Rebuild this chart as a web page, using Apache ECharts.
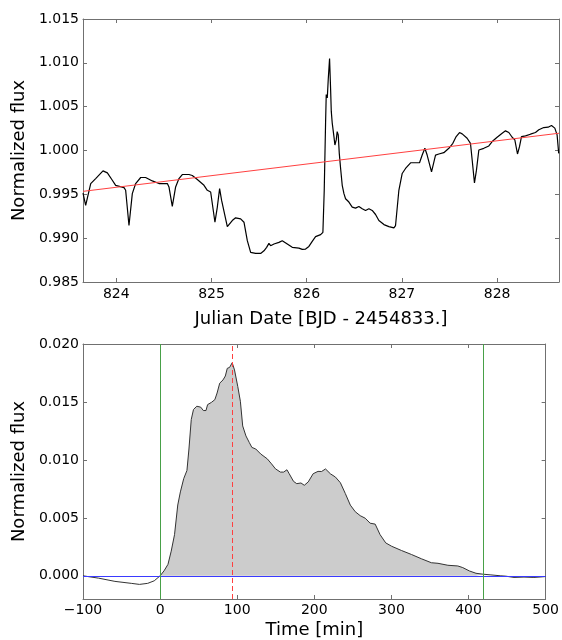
<!DOCTYPE html>
<html>
<head>
<meta charset="utf-8">
<script src="https://cdn.jsdelivr.net/npm/echarts@6/dist/echarts.min.js"></script>
<style>
html, body { margin: 0; padding: 0; background: #fff; }
#chart { width: 562px; height: 640px; }
</style>
</head>
<body>
<div id="chart"></div>
<script>
// light curve (top panel)
var lcTime = [823.65, 823.678, 823.731, 823.783, 823.860, 823.906, 823.958, 823.993, 824.081, 824.098,
  824.133, 824.168, 824.203, 824.256, 824.308, 824.378, 824.448, 824.536, 824.553, 824.588,
  824.623, 824.658, 824.693, 824.763, 824.798, 824.851, 824.921, 824.956, 824.991, 825.036,
  825.061, 825.085, 825.106, 825.166, 825.218, 825.253, 825.306, 825.341, 825.376, 825.411,
  825.463, 825.516, 825.551, 825.579, 825.603, 825.621, 825.656, 825.708, 825.743, 825.796,
  825.848, 825.918, 825.953, 825.988, 826.023, 826.058, 826.093, 826.146, 826.170, 826.184,
  826.198, 826.205, 826.216, 826.226, 826.240, 826.251, 826.258, 826.268, 826.286, 826.296,
  826.310, 826.320, 826.331, 826.342, 826.356, 826.373, 826.391, 826.408, 826.443, 826.478,
  826.513, 826.548, 826.583, 826.618, 826.653, 826.688, 826.723, 826.758, 826.811, 826.863,
  826.916, 826.933, 826.968, 827.003, 827.038, 827.091, 827.160, 827.185, 827.213, 827.241,
  827.265, 827.311, 827.353, 827.388, 827.440, 827.493, 827.535, 827.570, 827.605, 827.633,
  827.685, 827.720, 827.738, 827.762, 827.783, 827.808, 827.860, 827.913, 827.948, 828.000,
  828.053, 828.088, 828.123, 828.158, 828.186, 828.214, 828.235, 828.256, 828.298, 828.350,
  828.403, 828.438, 828.490, 828.536, 828.571, 828.606, 828.630, 828.647];
var lcFlux = [0.99515, 0.99374, 0.99623, 0.99680, 0.99768, 0.99745, 0.99661, 0.99603, 0.99577, 0.99546,
  0.99144, 0.99508, 0.99623, 0.99692, 0.99692, 0.99653, 0.99623, 0.99623, 0.99584, 0.99362,
  0.99584, 0.99680, 0.99726, 0.99726, 0.99715, 0.99669, 0.99603, 0.99546, 0.99527, 0.99182,
  0.99355, 0.99565, 0.99431, 0.99132, 0.99201, 0.99232, 0.99220, 0.99182, 0.98971, 0.98837,
  0.98826, 0.98826, 0.98856, 0.98895, 0.98941, 0.98914, 0.98933, 0.98952, 0.98971, 0.98933,
  0.98895, 0.98887, 0.98872, 0.98876, 0.98906, 0.98964, 0.99017, 0.99040, 0.99067, 0.99546,
  1.00312, 1.00638, 1.00600, 1.00810, 1.01048, 1.00695, 1.00446, 1.00312, 1.00159, 1.00063,
  1.00121, 1.00216, 1.00178, 0.99967, 0.99795, 0.99603, 0.99508, 0.99450, 0.99412, 0.99354,
  0.99343, 0.99362, 0.99335, 0.99316, 0.99335, 0.99316, 0.99270, 0.99201, 0.99155, 0.99132,
  0.99117, 0.99144, 0.99546, 0.99738, 0.99795, 0.99860, 0.99860, 0.99860, 0.99948, 1.00025,
  0.99948, 0.99757, 0.99948, 0.99960, 0.99975, 1.00025, 1.00082, 1.00159, 1.00205, 1.00190,
  1.00140, 1.00082, 0.99891, 0.99630, 0.99776, 1.00006, 1.00025, 1.00052, 1.00102, 1.00151,
  1.00197, 1.00224, 1.00205, 1.00151, 1.00121, 0.99960, 1.00044, 1.00159, 1.00167, 1.00186,
  1.00205, 1.00236, 1.00262, 1.00266, 1.00285, 1.00255, 1.00178, 0.99967];

// linear trend (red line)
var trendTime = [823.65, 828.65];
var trendFlux = [0.99534, 1.00197];

// flare profile (bottom panel)
var flareTime = [-100, -79.9, -58.6, -37.4, -26.8, -16.1, -7.6, 0, 5.1, 10.2,
  14.4, 18.7, 22.9, 26.3, 30.6, 34.8, 37.4, 40.4, 43.3, 47.6,
  52.7, 56.1, 59.5, 61.6, 66.7, 71.0, 73.9, 77.3, 81.6, 84.6,
  87.1, 90.1, 93.5, 96.5, 100.7, 104.1, 107.1, 111.3, 115.6, 119.0,
  124.1, 130.5, 139.0, 144.5, 149.6, 156.0, 160.2, 164.5, 167.4, 173.0,
  177.2, 182.7, 187.0, 192.1, 198.5, 204.8, 209.4, 214.5, 220.9, 227.4,
  233.8, 240.2, 246.7, 253.1, 259.5, 266.0, 272.4, 278.9, 285.3, 292.6,
  300.3, 313.2, 326.0, 338.9, 351.8, 360.4, 373.2, 386.1, 392.5, 401.1,
  409.7, 418.7, 429.0, 441.9, 448.3, 459.0, 471.9, 484.8, 495.5, 500];
var flareFlux = [0, -0.0002, -0.00048, -0.00065, -0.00074, -0.00065, -0.00043, 0, 0.00043, 0.00099,
  0.00213, 0.00355, 0.00611, 0.00724, 0.00838, 0.00909, 0.01094, 0.01349, 0.01435, 0.01463,
  0.01455, 0.01426, 0.01426, 0.01477, 0.01497, 0.0152, 0.01577, 0.01662, 0.0169, 0.01724,
  0.0179, 0.01798, 0.01838, 0.01776, 0.01634, 0.01506, 0.01293, 0.01207, 0.01151, 0.01108,
  0.01094, 0.01051, 0.01009, 0.00966, 0.00923, 0.00895, 0.00895, 0.00915, 0.00881, 0.00815,
  0.00795, 0.00801, 0.00781, 0.0081, 0.00881, 0.00901, 0.009, 0.00922, 0.0088, 0.00852,
  0.00803, 0.0071, 0.0061, 0.00553, 0.00519, 0.00497, 0.00454, 0.00446, 0.00355, 0.00284,
  0.00255, 0.00218, 0.00184, 0.00147, 0.00113, 0.00108, 0.00091, 0.00085, 0.00071, 0.00042,
  0.00022, 0.00014, 0.00008, 0, -0.00003, -0.00014, -0.00011, -0.00014, -0.00009, -0.00006];

var flareStart = 0;     // green line
var flareEnd = 419;     // green line
var flarePeak = 93.5;   // red dashed

var frameColor = '#707070';
var font = 'DejaVu Sans';

function pairs(xs, ys) {
    var out = [];
    for (var i = 0; i < xs.length; i++) out.push([xs[i], ys[i]]);
    return out;
}

var fillData = pairs(flareTime, flareFlux).filter(function (p) {
    return p[0] >= flareStart && p[0] <= flareEnd;
});

function onMultiple(v, step) {
    var k = v / step;
    return Math.abs(k - Math.round(k)) < 1e-6;
}

// axis helper: main axis with labels, or mirror axis with ticks only
function axis(grid, pos, min, max, extra) {
    var a = {
        type: 'value',
        gridIndex: grid,
        position: pos,
        min: min,
        max: max,
        splitLine: { show: false },
        axisLine: { show: true, onZero: false, lineStyle: { color: frameColor, width: 1 } },
        axisTick: { show: true, inside: true, length: 4, lineStyle: { color: frameColor } },
        axisLabel: { show: false }
    };
    for (var k in extra) a[k] = extra[k];
    return a;
}

var labelStyle = { show: true, color: '#000', fontFamily: font, fontSize: 14 };
var nameStyle = { color: '#000', fontFamily: font, fontSize: 18 };

var chart = echarts.init(document.getElementById('chart'));

chart.setOption({
    animation: false,
    backgroundColor: '#fff',
    grid: [
        { left: 83, right: 2, top: 19, height: 263 },
        { left: 83, right: 14, top: 344, height: 257 }
    ],
    xAxis: [
        axis(0, 'bottom', 823.65, 828.65, {
            axisLabel: Object.assign({}, labelStyle, {
                margin: 5,
                formatter: function (v) { return onMultiple(v, 1) ? String(Math.round(v)) : ''; }
            }),
            name: 'Julian Date [BJD - 2454833.]',
            nameLocation: 'middle',
            nameGap: 28,
            nameTextStyle: nameStyle
        }),
        axis(0, 'top', 823.65, 828.65, {}),
        axis(1, 'bottom', -100, 500, {
            interval: 100,
            axisLabel: Object.assign({}, labelStyle, {
                margin: 4,
                formatter: function (v) { return v < 0 ? '\u2212' + Math.abs(v) : String(v); }
            }),
            name: 'Time [min]',
            nameLocation: 'middle',
            nameGap: 22,
            nameTextStyle: nameStyle
        }),
        axis(1, 'top', -100, 500, { interval: 100 })
    ],
    yAxis: [
        axis(0, 'left', 0.985, 1.015, {
            interval: 0.005,
            axisLabel: Object.assign({}, labelStyle, {
                margin: 4,
                formatter: function (v) { return v.toFixed(3); }
            }),
            name: 'Normalized flux',
            nameLocation: 'middle',
            nameGap: 52,
            nameTextStyle: nameStyle
        }),
        axis(0, 'right', 0.985, 1.015, { interval: 0.005 }),
        axis(1, 'left', -0.002, 0.020, {
            axisLabel: Object.assign({}, labelStyle, {
                margin: 4,
                formatter: function (v) { return onMultiple(v, 0.005) ? v.toFixed(3) : ''; }
            }),
            name: 'Normalized flux',
            nameLocation: 'middle',
            nameGap: 52,
            nameTextStyle: nameStyle
        }),
        axis(1, 'right', -0.002, 0.020, {})
    ],
    series: [
        {
            name: 'light curve',
            type: 'line',
            xAxisIndex: 0,
            yAxisIndex: 0,
            data: pairs(lcTime, lcFlux),
            showSymbol: false,
            lineStyle: { color: '#000', width: 1.2 },
            z: 3
        },
        {
            name: 'trend',
            type: 'line',
            xAxisIndex: 0,
            yAxisIndex: 0,
            data: pairs(trendTime, trendFlux),
            showSymbol: false,
            lineStyle: { color: '#ff4040', width: 1 },
            z: 4
        },
        {
            name: 'flare fill',
            type: 'line',
            xAxisIndex: 2,
            yAxisIndex: 2,
            data: fillData,
            showSymbol: false,
            lineStyle: { width: 0 },
            areaStyle: { color: '#cccccc', opacity: 1 },
            z: 1
        },
        {
            name: 'flare',
            type: 'line',
            xAxisIndex: 2,
            yAxisIndex: 2,
            data: pairs(flareTime, flareFlux),
            showSymbol: false,
            lineStyle: { color: '#333', width: 1 },
            z: 3,
            markLine: {
                silent: true,
                symbol: ['none', 'none'],
                label: { show: false },
                animation: false,
                data: [
                    { yAxis: 0, lineStyle: { color: '#3a3aff', width: 1, type: 'solid' } },
                    { xAxis: flareStart, lineStyle: { color: '#47a047', width: 1, type: 'solid' } },
                    { xAxis: flareEnd, lineStyle: { color: '#47a047', width: 1, type: 'solid' } },
                    { xAxis: flarePeak, lineStyle: { color: '#ff4040', width: 1, type: [5, 3] } }
                ]
            }
        }
    ]
});
</script>
</body>
</html>
